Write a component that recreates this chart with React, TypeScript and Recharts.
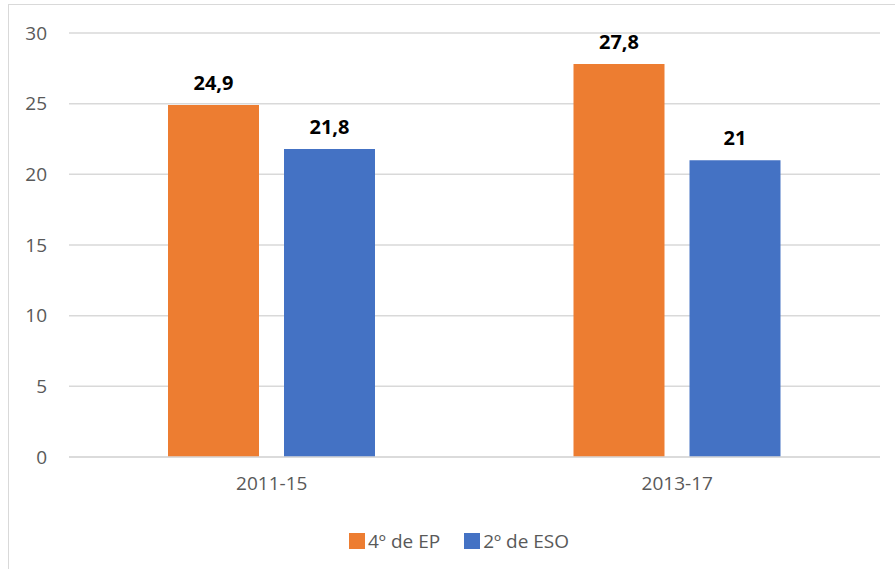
import { BarChart, Bar, XAxis, YAxis, CartesianGrid, LabelList } from "recharts";

const periods = ["2011-15", "2013-17"];
const ep4 = [24.9, 27.8];
const eso2 = [21.8, 21];
const yTicks = [0, 5, 10, 15, 20, 25, 30];

const series = [
  { key: "ep4", name: "4º de EP", color: "#ED7D31" },
  { key: "eso2", name: "2º de ESO", color: "#4472C4" },
];

const data = periods.map((p, i) => ({ period: p, ep4: ep4[i], eso2: eso2[i] }));

const FONT = "'Open Sans', sans-serif";

const fmt = (v: any) => String(v).replace(".", ",");

const App = () => {
  return (
    <div
      style={{
        position: "fixed",
        left: 8,
        top: 4,
        width: 887,
        height: 565,
        overflow: "hidden",
        borderLeft: "1px solid #d9d9d9",
        borderTop: "1px solid #d9d9d9",
        background: "#fff",
        fontFamily: FONT,
      }}
    >
      <BarChart
        width={900}
        height={560}
        data={data}
        margin={{ top: 28, right: 29, left: 0, bottom: 78 }}
        barGap={25}
        barSize={91}
      >
        <CartesianGrid vertical={false} stroke="#d9d9d9" strokeWidth={1.5} />
        <XAxis
          dataKey="period"
          axisLine={{ stroke: "#d9d9d9", strokeWidth: 1.5 }}
          tickLine={false}
          tickMargin={14}
          height={30}
          tick={{ fill: "#595959", fontSize: 19, fontFamily: FONT }}
        />
        <YAxis
          domain={[0, 30]}
          ticks={yTicks}
          width={60}
          axisLine={false}
          tickLine={false}
          tickMargin={16}
          tick={{ fill: "#595959", fontSize: 19, fontFamily: FONT }}
        />
        {series.map((s) => (
          <Bar key={s.key} dataKey={s.key} name={s.name} fill={s.color} isAnimationActive={false}>
            <LabelList
              dataKey={s.key}
              position="top"
              offset={15}
              formatter={fmt}
              fill="#000"
              fontWeight="bold"
              fontSize={20}
              fontFamily={FONT}
            />
          </Bar>
        ))}
      </BarChart>
      <div
        style={{
          position: "absolute",
          left: 340,
          top: 523,
          display: "flex",
          alignItems: "center",
          fontSize: 19,
          color: "#595959",
        }}
      >
        {series.map((s) => (
          <div key={s.key} style={{ display: "flex", alignItems: "center", marginRight: 24 }}>
            <span style={{ width: 16, height: 16, background: s.color, display: "inline-block", marginRight: 3 }} />
            <span>{s.name}</span>
          </div>
        ))}
      </div>
    </div>
  );
};

export default App;
